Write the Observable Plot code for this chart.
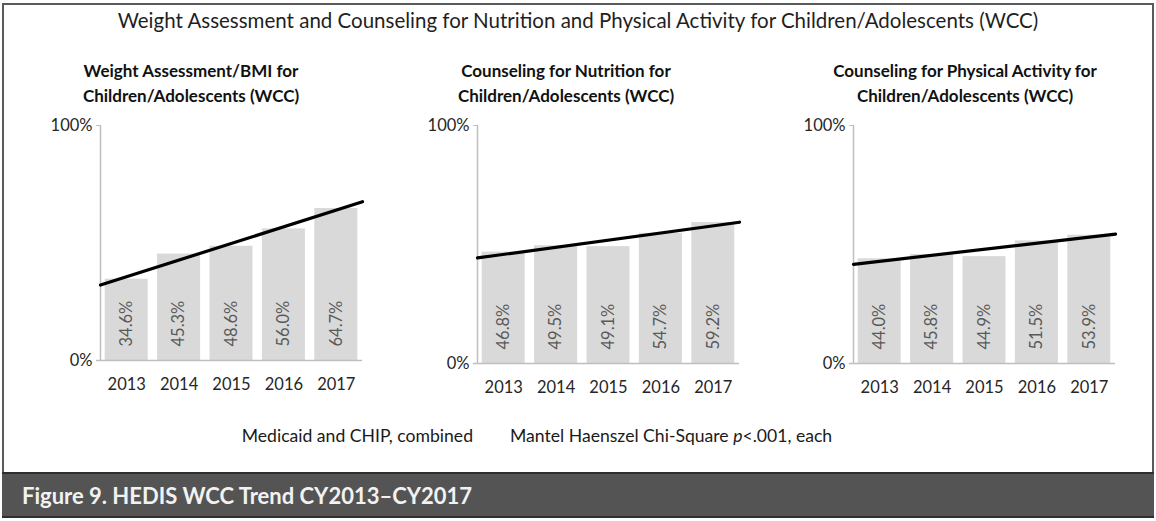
<!DOCTYPE html>
<html>
<head>
<meta charset="utf-8">
<script src="https://cdn.jsdelivr.net/npm/d3@7"></script>
<script src="https://cdn.jsdelivr.net/npm/@observablehq/plot@0.6"></script>
<style>
  html, body { margin: 0; padding: 0; background: #fff; }
  #root { position: relative; width: 1156px; height: 521px; overflow: hidden; font-family: Lato, "Open Sans", sans-serif; color: #1a1a1a; }
  #frame { position: absolute; left: 2px; top: 3px; width: 1152px; height: 515px; border: 2px solid #5a5a5a; box-sizing: border-box; }
  #title { position: absolute; left: 0; width: 1156px; top: 8px; text-align: center; font-size: 20.5px; color: #1f1f1f; }
  .ptitle { position: absolute; top: 58px; width: 360px; text-align: center; font-size: 17px; font-weight: bold; line-height: 25px; color: #111; }
  .panel { position: absolute; }
  .panel svg [aria-label*="axis"] text { fill: #262626; }
  .note { position: absolute; top: 425px; font-size: 17.6px; color: #1a1a1a; white-space: nowrap; }
  #footer { position: absolute; left: 2px; top: 472px; width: 1152px; height: 46px; background: #545454; border-top: 2px solid #2e2e2e; border-bottom: 2px solid #2e2e2e; box-sizing: border-box; }
  #footer span { position: absolute; left: 20px; top: 8px; font-size: 22px; font-weight: bold; color: #f2f2f2; white-space: nowrap; }
</style>
</head>
<body>
<div id="root">
  <div id="frame"></div>
  <div id="title"></div>
  <div id="footer"><span id="figcap"></span></div>
</div>
<script>
// ---- data ----
const years = [2013, 2014, 2015, 2016, 2017];
const weightBMI = [34.6, 45.3, 48.6, 56.0, 64.7];
const nutrition = [46.8, 49.5, 49.1, 54.7, 59.2];
const physical = [44.0, 45.8, 44.9, 51.5, 53.9];
const panelTitles = [
  ["Weight Assessment/BMI for", "Children/Adolescents (WCC)"],
  ["Counseling for Nutrition for", "Children/Adolescents (WCC)"],
  ["Counseling for Physical Activity for", "Children/Adolescents (WCC)"]
];
const yTicks = [0, 100];
const mainTitle = "Weight Assessment and Counseling for Nutrition and Physical Activity for Children/Adolescents (WCC)";
const noteLeft = "Medicaid and CHIP, combined";
const noteRight = ["Mantel Haenszel Chi-Square ", "p", "<.001, each"];
const caption = "Figure 9. HEDIS WCC Trend CY2013\u2013CY2017";

// ---- layout (positions only) ----
const layout = [
  {axisX: 100, top: 125, plotH: 235, titleCX: 191},
  {axisX: 477, top: 125, plotH: 238, titleCX: 566},
  {axisX: 853, top: 125, plotH: 238, titleCX: 965}
];
const plotW = 262, mL = 60, mR = 4, mT = 10, mB = 42;

const root = document.getElementById("root");
document.getElementById("title").textContent = mainTitle;
document.getElementById("figcap").textContent = caption;

const series = [weightBMI, nutrition, physical];
const xDomain = [years[0] - 0.5, years[years.length - 1] + 0.5];

series.forEach((vals, i) => {
  const L = layout[i];
  const data = years.map((y, j) => ({year: y, value: vals[j]}));
  // least-squares linear trend (as the source's trendline), spanning the full category range
  const mx = d3.mean(years), my = d3.mean(vals);
  const slope = d3.sum(years, (x, j) => (x - mx) * (vals[j] - my)) / d3.sum(years, x => (x - mx) ** 2);
  const trend = xDomain.map(x => ({year: x, value: my + slope * (x - mx)}));

  const chart = Plot.plot({
    width: mL + plotW + mR,
    height: mT + L.plotH + mB,
    marginLeft: mL, marginRight: mR, marginTop: mT, marginBottom: mB,
    style: {fontFamily: "Lato, 'Open Sans', sans-serif", fontSize: "16.5px", color: "#bfbfbf", background: "transparent"},
    x: {domain: xDomain, ticks: years, tickFormat: d => String(d), tickSize: 0, tickPadding: 18, label: null},
    y: {domain: [0, 100], ticks: yTicks, tickFormat: d => d + "%", tickSize: 4, tickPadding: 4, label: null},
    marks: [
      Plot.rectY(data, {x1: d => d.year - 0.5, x2: d => d.year + 0.5, y: "value", fill: "#d9d9d9", insetLeft: 4.7, insetRight: 4.7}),
      Plot.ruleX([xDomain[0]], {stroke: "#bfbfbf", strokeWidth: 1.5}),
      Plot.ruleY([0], {stroke: "#bfbfbf", strokeWidth: 1.5, insetLeft: -4}),
      Plot.text(data, {x: "year", y: 0, text: d => d.value.toFixed(1) + "%", rotate: -90, textAnchor: "start", dy: -14, fill: "#595959", fontSize: 16.5}),
      Plot.line(trend, {x: "year", y: "value", stroke: "#000", strokeWidth: 3.2})
    ]
  });
  const wrap = document.createElement("div");
  wrap.className = "panel";
  wrap.style.left = (L.axisX - mL) + "px";
  wrap.style.top = (L.top - mT) + "px";
  wrap.appendChild(chart);
  root.appendChild(wrap);

  const t = document.createElement("div");
  t.className = "ptitle";
  t.style.left = (L.titleCX - 180) + "px";
  t.innerHTML = panelTitles[i].map(s => s.replace(/&/g, "&amp;").replace(/</g, "&lt;")).join("<br>");
  root.appendChild(t);
});

const n1 = document.createElement("div");
n1.className = "note";
n1.style.right = (1156 - 473) + "px";
n1.textContent = noteLeft;
root.appendChild(n1);
const n2 = document.createElement("div");
n2.className = "note";
n2.style.left = "510px";
n2.innerHTML = noteRight[0] + "<i>" + noteRight[1] + "</i>" + noteRight[2].replace(/</g, "&lt;");
root.appendChild(n2);
</script>
</body>
</html>
